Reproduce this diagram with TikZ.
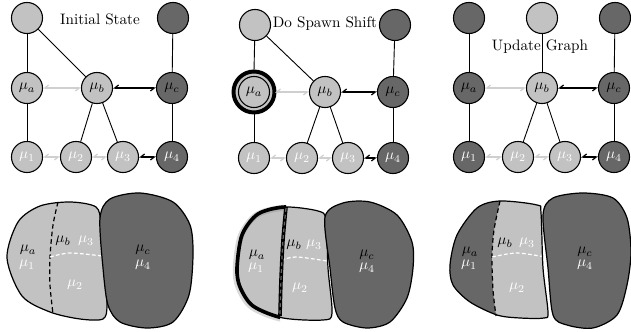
\documentclass[tikz,border=0pt]{standalone}
\usetikzlibrary{arrows.meta}
\definecolor{lg}{HTML}{C2C2C2}
\definecolor{dg}{HTML}{676767}
\definecolor{la}{HTML}{CFCFCF}
\begin{document}
\begin{tikzpicture}[x=0.66pt,y=-0.66pt,
 nd/.style={circle,draw=black,line width=0.7pt,minimum size=20.5pt,inner sep=0pt},
 ln/.style={nd,fill=lg},
 dn/.style={nd,fill=dg},
 wt/.style={text=white},
 edg/.style={line width=0.6pt},
 larr/.style={la,line width=0.8pt,{Straight Barb[right,length=2.5pt,width=4pt]}-{Straight Barb[right,length=2.5pt,width=4pt]}},
 barr/.style={black,line width=0.8pt,{Straight Barb[right,length=2.5pt,width=4pt]}-{Straight Barb[right,length=2.5pt,width=4pt]}},
 blob/.style={draw=black,line width=0.8pt},
 bdash/.style={black,line width=0.8pt,dash pattern=on 3pt off 2pt},
 wdash/.style={white,line width=0.8pt,dash pattern=on 2.5pt off 1.5pt},
 ttl/.style={inner sep=0pt}]
\useasboundingbox (0,0) rectangle (631,332);

% ================= Panel 1 graph =================
\node[ttl] (ttl1) at (100,19) {Initial State};
\node[ln] (p1t1) at (27,18) {};
\node[dn] (p1t2) at (173,18) {};
\node[ln] (p1a) at (27,88) {$\mu_a$};
\node[ln] (p1b) at (97,88) {$\mu_b$};
\node[dn] (p1c) at (172,88) {$\mu_c$};
\node[ln,wt] (p11) at (27,157) {$\mu_1$};
\node[ln,wt] (p12) at (76,157) {$\mu_2$};
\node[ln,wt] (p13) at (123,157) {$\mu_3$};
\node[dn,wt] (p14) at (172,157) {$\mu_4$};
\draw[edg] (p1t1) -- (p1a);
\draw[edg] (p1t1) -- (p1b);
\draw[edg] (p1t2) -- (p1c);
\draw[edg] (p1a) -- (p11);
\draw[edg] (p1b) -- (p12);
\draw[edg] (p1b) -- (p13);
\draw[edg] (p1c) -- (p14);
\draw[larr] (p1a) -- (p1b);
\draw[barr] (p1b) -- (p1c);
\draw[larr] (p11) -- (p12);
\draw[larr] (p12) -- (p13);
\draw[barr] (p13) -- (p14);

% ================= Panel 2 graph =================
\node[ln] (p2t1) at (255,25) {};
\node[dn] (p2t2) at (395,25) {};
\draw[line width=2.6pt,fill=lg] (254,92) circle[radius=20.5];
\node[ln] (p2a) at (254,92) {$\mu_a$};
\node[ln] (p2b) at (325,92) {$\mu_b$};
\node[dn] (p2c) at (393,92) {$\mu_c$};
\node[ln,wt] (p21) at (254,158) {$\mu_1$};
\node[ln,wt] (p22) at (302,158) {$\mu_2$};
\node[ln,wt] (p23) at (348,158) {$\mu_3$};
\node[dn,wt] (p24) at (393,158) {$\mu_4$};
\coordinate (p2ringtop) at (254,71);
\coordinate (p2ringbot) at (254,113);
\coordinate (p2ringright) at (275,92);
\draw[edg] (p2t1) -- (p2ringtop);
\draw[edg] (p2t1) -- (p2b);
\draw[edg] (p2t2) -- (p2c);
\draw[edg] (p2ringbot) -- (p21);
\draw[edg] (p2b) -- (p22);
\draw[edg] (p2b) -- (p23);
\draw[edg] (p2c) -- (p24);
\draw[larr] (p2ringright) -- (p2b);
\draw[barr] (p2b) -- (p2c);
\draw[larr] (p21) -- (p22);
\draw[larr] (p22) -- (p23);
\draw[barr] (p23) -- (p24);
\node[ttl] (ttl2) at (325,24) {Do Spawn Shift};

% ================= Panel 3 graph =================
\node[ttl] (ttl3) at (540,47) {Update Graph};
\node[dn] (p3t1) at (469,18) {};
\node[ln] (p3t2) at (542,18) {};
\node[dn] (p3t3) at (615,18) {};
\node[dn] (p3a) at (469,88) {$\mu_a$};
\node[ln] (p3b) at (542,88) {$\mu_b$};
\node[dn] (p3c) at (614,88) {$\mu_c$};
\node[dn,wt] (p31) at (469,157) {$\mu_1$};
\node[ln,wt] (p32) at (518,157) {$\mu_2$};
\node[ln,wt] (p33) at (565,157) {$\mu_3$};
\node[dn,wt] (p34) at (614,157) {$\mu_4$};
\draw[edg] (p3t1) -- (p3a);
\draw[edg] (p3t2) -- (p3b);
\draw[edg] (p3t3) -- (p3c);
\draw[edg] (p3a) -- (p31);
\draw[edg] (p3b) -- (p32);
\draw[edg] (p3b) -- (p33);
\draw[edg] (p3c) -- (p34);
\draw[larr] (p3a) -- (p3b);
\draw[barr] (p3b) -- (p3c);
\draw[larr] (p31) -- (p32);
\draw[larr] (p32) -- (p33);
\draw[barr] (p33) -- (p34);

% ================= Panel 1 blobs =================
\fill[lg] plot[smooth cycle] coordinates {(7,258)(18,222)(40,206)(70,202)(96,207)(101,225)(104,270)(107,305)(103,319)(80,319)(50,312)(22,296)};
\draw[bdash] plot[smooth] coordinates {(58,202)(53,225)(50,257)(50,285)(53,314)};
\draw[wdash] plot[smooth] coordinates {(50,257)(70,253)(102,256)};
\draw[blob] plot[smooth cycle] coordinates {(7,258)(18,222)(40,206)(70,202)(96,207)(101,225)(104,270)(107,305)(103,319)(80,319)(50,312)(22,296)};
\draw[blob,fill=dg] plot[smooth cycle] coordinates {(100,218)(110,199)(140,193)(173,202)(190,225)(193,255)(189,295)(173,322)(147,328)(120,322)(108,305)(103,268)};
\node (q1a) at (28,250) {$\mu_a$};
\node[wt] (q11) at (27,265) {$\mu_1$};
\node (q1b) at (63,241) {$\mu_b$};
\node[wt] (q13) at (86,241) {$\mu_3$};
\node[wt] (q12) at (75,285) {$\mu_2$};
\node (q1c) at (143,250) {$\mu_c$};
\node[wt] (q14) at (143,265) {$\mu_4$};

% ================= Panel 2 blobs =================
\fill[lg] plot[smooth cycle] coordinates {(237,268)(242,235)(258,214)(285,207)(318,211)(326,220)(328,268)(332,313)(323,320)(283,318)(253,306)(240,287)};
\draw[wdash] plot[smooth] coordinates {(281,260)(297,257)(327,261)};
\draw[blob] plot[smooth cycle] coordinates {(237,268)(242,235)(258,214)(285,207)(318,211)(326,220)(328,268)(332,313)(323,320)(283,318)(253,306)(240,287)};
\begin{scope}
\clip (286,185) -- plot[smooth] coordinates {(286,207)(283,240)(281,280)(280,316)} -- (280,340) -- (215,340) -- (215,185) -- cycle;
\draw[gray,opacity=0.3,line width=4pt,xshift=-0.8pt,yshift=-0.6pt] plot[smooth cycle] coordinates {(237,268)(242,235)(258,214)(285,207)(318,211)(326,220)(328,268)(332,313)(323,320)(283,318)(253,306)(240,287)};
\draw[black,line width=2.4pt] plot[smooth cycle] coordinates {(237,268)(242,235)(258,214)(285,207)(318,211)(326,220)(328,268)(332,313)(323,320)(283,318)(253,306)(240,287)};
\end{scope}
\draw[black,line width=2.4pt] plot[smooth] coordinates {(286,207)(283,240)(281,280)(280,316)};
\draw[dg,line width=0.8pt,dash pattern=on 2.5pt off 2pt] plot[smooth] coordinates {(286,208)(283,240)(281,280)(280,315)};
\draw[blob,fill=dg] plot[smooth cycle] coordinates {(325,217)(343,203)(370,202)(397,215)(412,242)(413,268)(407,298)(390,322)(367,328)(343,322)(335,308)(330,268)};
\node (q2a) at (257,255) {$\mu_a$};
\node[wt] (q21) at (256,268) {$\mu_1$};
\node (q2b) at (294,245) {$\mu_b$};
\node[wt] (q23) at (314,245) {$\mu_3$};
\node[wt] (q22) at (300,288) {$\mu_2$};
\node (q2c) at (367,255) {$\mu_c$};
\node[wt] (q24) at (367,268) {$\mu_4$};

% ================= Panel 3 blobs =================
\fill[lg] plot[smooth cycle] coordinates {(450,265)(457,235)(477,208)(500,201)(537,205)(541,213)(543,268)(548,312)(544,318)(520,318)(497,315)(470,302)(453,285)};
\begin{scope}
\clip plot[smooth cycle] coordinates {(450,265)(457,235)(477,208)(500,201)(537,205)(541,213)(543,268)(548,312)(544,318)(520,318)(497,315)(470,302)(453,285)};
\fill[dg] (500,185) -- plot[smooth] coordinates {(500,201)(494,230)(492,257)(493,290)(496,316)} -- (496,340) -- (435,340) -- (435,185) -- cycle;
\end{scope}
\draw[bdash] plot[smooth] coordinates {(500,201)(494,230)(492,257)(493,290)(496,316)};
\draw[wdash] plot[smooth] coordinates {(492,257)(517,253)(545,257)};
\draw[blob] plot[smooth cycle] coordinates {(450,265)(457,235)(477,208)(500,201)(537,205)(541,213)(543,268)(548,312)(544,318)(520,318)(497,315)(470,302)(453,285)};
\draw[blob,fill=dg] plot[smooth cycle] coordinates {(543,215)(553,198)(583,193)(613,198)(627,218)(631,252)(627,285)(617,315)(593,328)(567,325)(553,315)(548,268)};
\node (q3a) at (470,252) {$\mu_a$};
\node[wt] (q31) at (469,265) {$\mu_1$};
\node (q3b) at (505,243) {$\mu_b$};
\node[wt] (q33) at (527,243) {$\mu_3$};
\node[wt] (q32) at (517,288) {$\mu_2$};
\node (q3c) at (585,252) {$\mu_c$};
\node[wt] (q34) at (585,265) {$\mu_4$};
\end{tikzpicture}
\end{document}
